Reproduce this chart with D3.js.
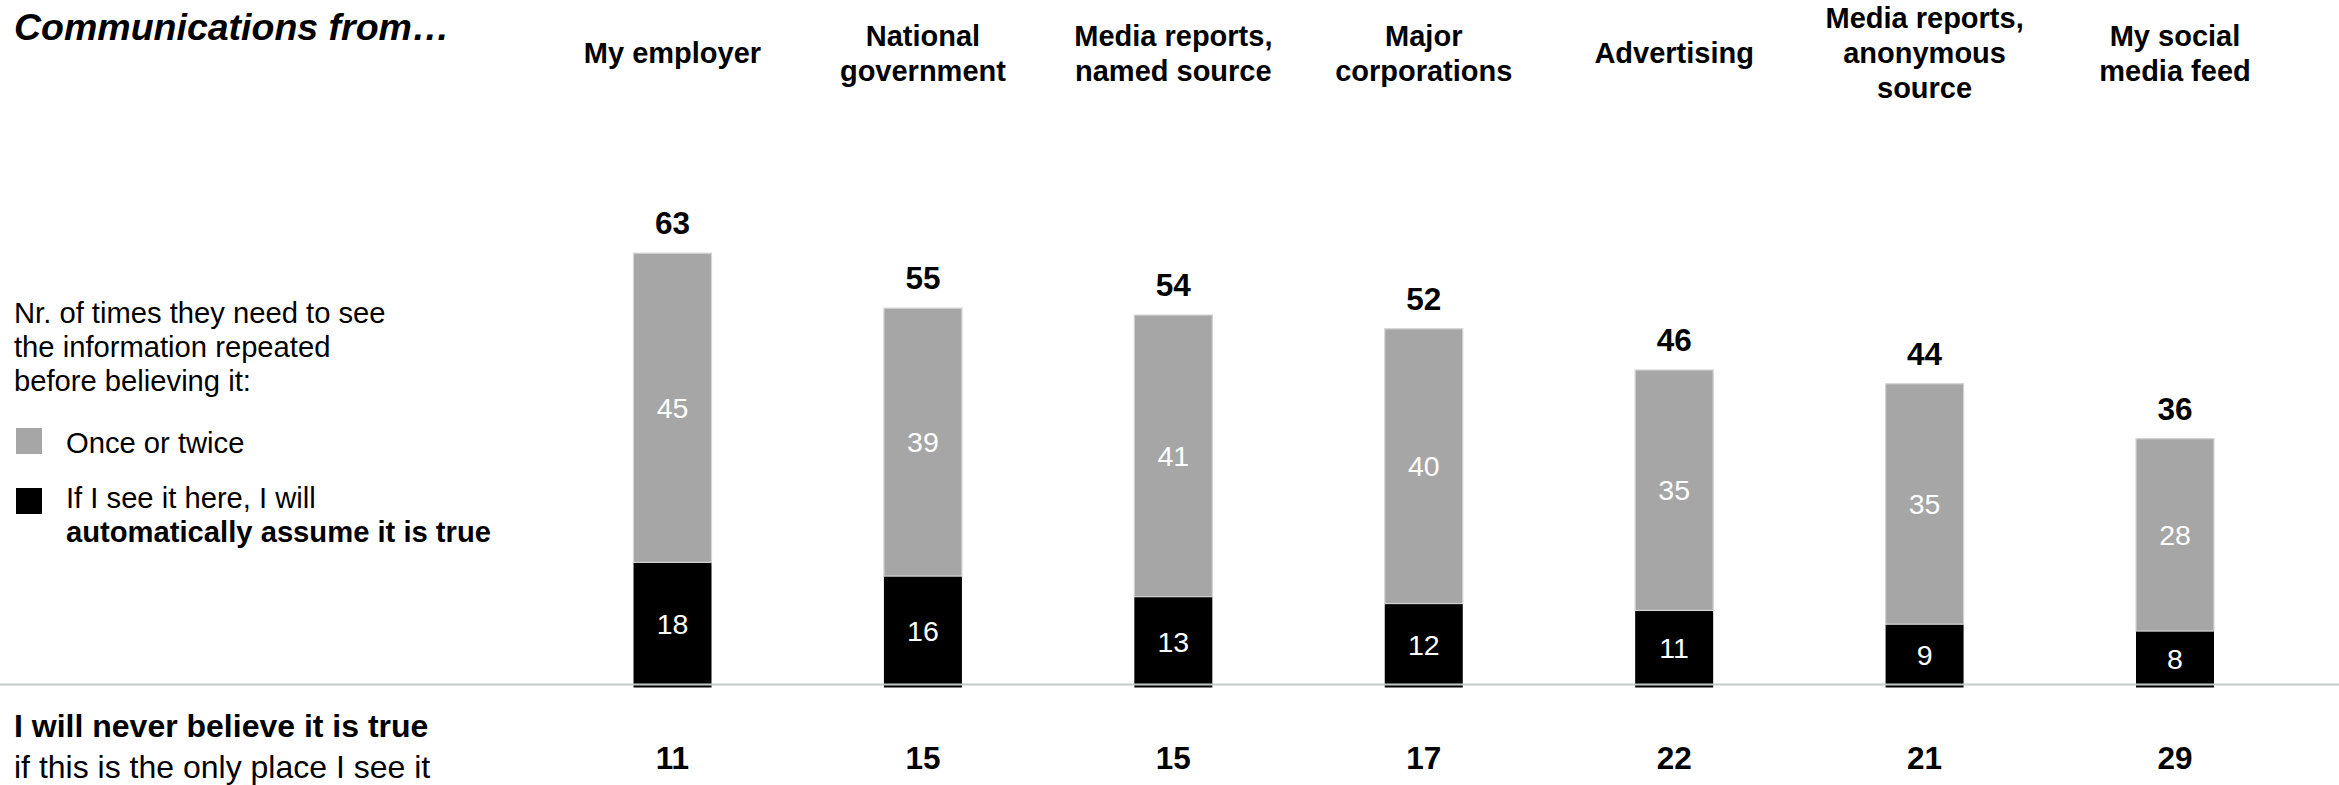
<!DOCTYPE html>
<html>
<head>
<meta charset="utf-8">
<script src="https://cdn.jsdelivr.net/npm/d3@7"></script>
<style>
  html, body { margin: 0; padding: 0; background: #fff; }
  svg { display: block; font-family: "Liberation Sans", Arial, sans-serif; }
</style>
</head>
<body>
<div id="chart"></div>
<script>
// categories (header lines) and values
var categories = ["employer", "government", "mediaNamed", "corporations", "advertising", "mediaAnon", "social"];
var headerLines = [
	["My employer"],
	["National", "government"],
	["Media reports,", "named source"],
	["Major", "corporations"],
	["Advertising"],
	["Media reports,", "anonymous", "source"],
	["My social", "media feed"]
];
var autoTrue = [18, 16, 13, 12, 11, 9, 8];       // black
var onceTwice = [45, 39, 41, 40, 35, 35, 28];    // grey
var neverTrue = [11, 15, 15, 17, 22, 21, 29];    // bottom row

var width = 2339, height = 785;
var baseY = 686;

var svg = d3.select("#chart")
	.append("svg")
	.attr("width", width)
	.attr("height", height);

var rows = categories.map((c, i) => ({ cat: c, auto: autoTrue[i], once: onceTwice[i] }));
var stacked = d3.stack().keys(["auto", "once"])(rows);

var x = d3.scaleBand()
	.domain(categories)
	.range([633.5, 2214])
	.paddingInner(0.6885)
	.paddingOuter(0);

var y = d3.scaleLinear()
	.domain([0, 63])
	.range([baseY, baseY - 63 * 6.87]);

var fills = { auto: "#000000", once: "#a6a6a6" };

// bars
var layers = svg.selectAll("g.layer")
	.data(stacked)
	.enter()
	.append("g")
	.attr("class", "layer");

layers.selectAll("rect")
	.data(d => d.map(p => ({ key: d.key, p: p })))
	.enter()
	.append("rect")
	.attr("x", d => x(d.p.data.cat))
	.attr("y", d => y(d.p[1]))
	.attr("width", x.bandwidth())
	.attr("height", d => y(d.p[0]) - y(d.p[1]) + (d.key == "auto" ? 1.5 : 0))
	.attr("fill", d => fills[d.key])
	.attr("stroke", d => d.key == "once" ? "#d4d4d4" : "none")
	.attr("stroke-width", 1.2);

// segment labels
layers.selectAll("text")
	.data(d => d.map(p => ({ key: d.key, p: p })))
	.enter()
	.append("text")
	.attr("x", d => x(d.p.data.cat) + x.bandwidth() / 2)
	.attr("y", d => (y(d.p[0]) + y(d.p[1])) / 2)
	.attr("dy", "0.36em")
	.attr("text-anchor", "middle")
	.attr("fill", "#ffffff")
	.style("font-size", "28.5px")
	.text(d => d.p[1] - d.p[0]);

// totals on top
svg.selectAll("text.total")
	.data(rows)
	.enter()
	.append("text")
	.attr("class", "total")
	.attr("x", d => x(d.cat) + x.bandwidth() / 2)
	.attr("y", d => y(d.auto + d.once) - 19)
	.attr("text-anchor", "middle")
	.style("font-size", "31.5px")
	.style("font-weight", "bold")
	.text(d => d.auto + d.once);

// baseline
svg.append("line")
	.attr("x1", 0)
	.attr("x2", width)
	.attr("y1", 684.5)
	.attr("y2", 684.5)
	.attr("stroke", "#c3cac7")
	.attr("stroke-width", 2);

// column headers
var lineH = 35;
var headers = svg.selectAll("text.header")
	.data(headerLines)
	.enter()
	.append("text")
	.attr("class", "header")
	.attr("text-anchor", "middle")
	.style("font-size", "29px")
	.style("font-weight", "bold");

headers.selectAll("tspan")
	.data((d, i) => d.map((t, j) => ({ t: t, j: j, n: d.length, cat: categories[i] })))
	.enter()
	.append("tspan")
	.attr("x", d => x(d.cat) + x.bandwidth() / 2)
	.attr("y", d => 63 + (d.j - (d.n - 1) / 2) * lineH)
	.text(d => d.t);

// bottom row
svg.selectAll("text.never")
	.data(neverTrue)
	.enter()
	.append("text")
	.attr("class", "never")
	.attr("x", (d, i) => x(categories[i]) + x.bandwidth() / 2)
	.attr("y", 769)
	.attr("text-anchor", "middle")
	.style("font-size", "31.5px")
	.style("font-weight", "bold")
	.text(d => d);

// title
svg.append("text")
	.attr("x", 14)
	.attr("y", 40)
	.style("font-size", "37.5px")
	.style("font-weight", "bold")
	.style("font-style", "italic")
	.text("Communications from\u2026");

// left side legend
var note = ["Nr. of times they need to see", "the information repeated", "before believing it:"];
svg.append("text")
	.style("font-size", "29.2px")
	.selectAll("tspan")
	.data(note)
	.enter()
	.append("tspan")
	.attr("x", 14)
	.attr("y", (d, i) => 323 + i * 34)
	.text(d => d);

var legend = [
	{ key: "once", top: 25, lines: [{ t: "Once or twice", b: false }] },
	{ key: "auto", top: 20, lines: [{ t: "If I see it here, I will", b: false }, { t: "automatically assume it is true", b: true }] }
];
var legY = [428, 488];

var lg = svg.selectAll("g.legend")
	.data(legend)
	.enter()
	.append("g")
	.attr("class", "legend")
	.attr("transform", (d, i) => "translate(16," + legY[i] + ")");

lg.append("rect")
	.attr("width", 26)
	.attr("height", 26)
	.attr("fill", d => fills[d.key]);

lg.append("text")
	.style("font-size", "29.2px")
	.selectAll("tspan")
	.data(d => d.lines.map(l => Object.assign({ top: d.top }, l)))
	.enter()
	.append("tspan")
	.attr("x", 50)
	.attr("y", (d, i) => d.top + i * 34)
	.style("font-weight", d => d.b ? "bold" : "normal")
	.text(d => d.t);

// bottom left caption
svg.append("text")
	.attr("x", 14)
	.attr("y", 737)
	.style("font-size", "32px")
	.style("font-weight", "bold")
	.text("I will never believe it is true");
svg.append("text")
	.attr("x", 14)
	.attr("y", 778)
	.style("font-size", "32px")
	.text("if this is the only place I see it");
</script>
</body>
</html>
